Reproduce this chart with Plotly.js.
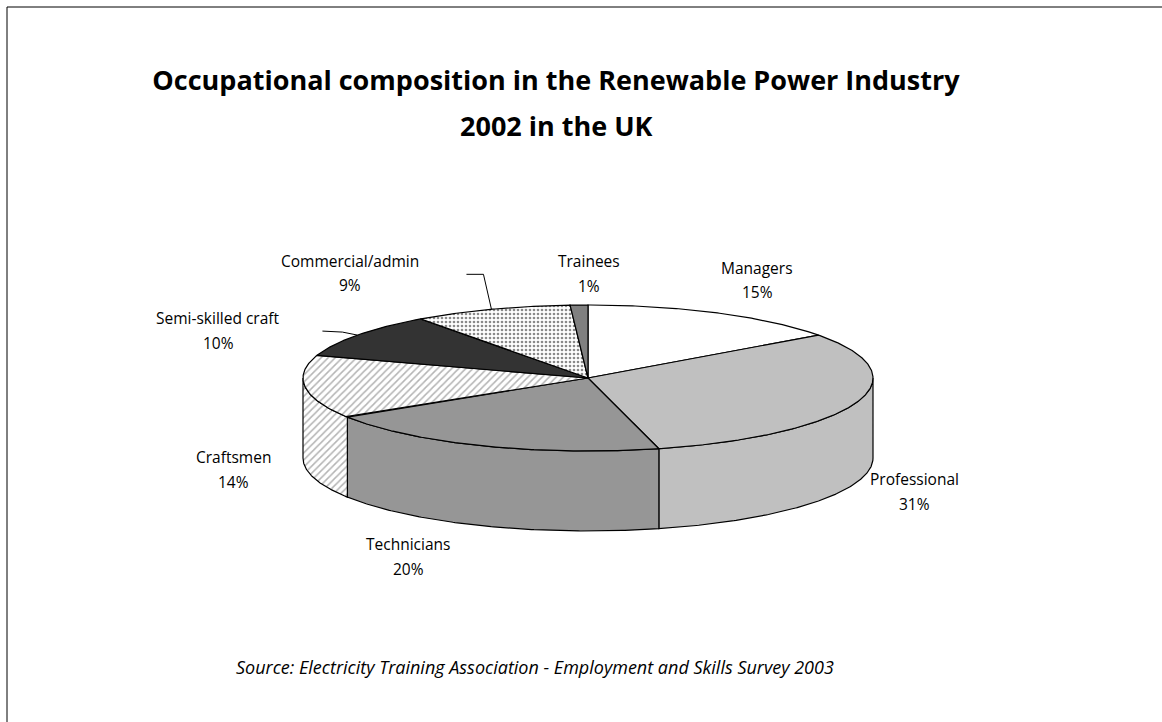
<!DOCTYPE html>
<html>
<head>
<meta charset="utf-8">
<script src="https://cdn.plot.ly/plotly-3.0.1.min.js"></script>
<style>html,body{margin:0;padding:0;background:#fff;}#chart{width:1162px;height:722px;}</style>
</head>
<body>
<div id="chart"></div>
<script>
// ---- data ----
const categories = ['Managers', 'Professional', 'Technicians', 'Craftsmen', 'Semi-skilled craft', 'Commercial/admin', 'Trainees'];
const shares = [15, 31, 20, 14, 10, 9, 1];
const pctLabels = ['15%', '31%', '20%', '14%', '10%', '9%', '1%'];
const titleLine1 = 'Occupational composition in the Renewable Power Industry';
const titleLine2 = '2002 in the UK';
const sourceText = 'Source: Electricity Training Association - Employment and Skills Survey 2003';

// ---- styling ----
const fills = ['#ffffff', '#c0c0c0', '#969696', '#ffffff', '#333333', '#ffffff', '#808080'];
const patterns = [null, null, null,
  {shape: '/', fgcolor: '#b4b4b4', bgcolor: '#ffffff', size: 5, solidity: 0.3},
  null,
  {shape: '.', fgcolor: '#8a8a8a', bgcolor: '#ffffff', size: 4, solidity: 0.35},
  null];
// label anchor (pixel space of the drawing axes): [x, yName, yPct]
const labelPos = [[757, 268, 292], [914, 479, 504], [408, 544, 569], [233, 457, 482], [218, 318, 343], [350, 261, 285], [589, 261, 286]];
// leader elbows relative to slice mid point: [[dx1,dy1],[dx2,dy2]]
const leaders = [null, null, null, null, [[-15, -3], [-35, -4]], [[-8, -35], [-25, -35]], null];

// geometry of the 3-D pie (pixels)
const cx = 588, cy = 378, rx = 285, ry = 73, depth = 80;
function pt(deg, dy) {
  const r = deg * Math.PI / 180;
  return [cx + rx * Math.sin(r), cy - ry * Math.cos(r) + (dy || 0)];
}
function arc(a, b, dy) {
  const out = [];
  const n = Math.max(2, Math.ceil(Math.abs(b - a) / 0.5));
  for (let i = 0; i <= n; i++) out.push(pt(a + (b - a) * i / n, dy));
  return out;
}

const total = shares.reduce((s, v) => s + v, 0);
const bounds = [];
let acc = 0;
shares.forEach(v => { const a = acc / total * 360; acc += v; bounds.push([a, acc / total * 360]); });

const traces = [];
function poly(points, i) {
  const t = {
    type: 'scatter', mode: 'lines', x: points.map(p => p[0]), y: points.map(p => p[1]),
    fill: 'toself', fillcolor: fills[i], line: {color: '#000000', width: 1.2},
    hoverinfo: 'text', text: categories[i] + ' ' + pctLabels[i], showlegend: false
  };
  if (patterns[i]) t.fillpattern = patterns[i];
  return t;
}
// outer walls (front half only)
bounds.forEach(([a, b], i) => {
  const lo = Math.max(a, 90), hi = Math.min(b, 270);
  if (lo < hi) {
    const pts = arc(lo, hi, 0).concat(arc(hi, lo, depth));
    pts.push(pts[0]);
    traces.push(poly(pts, i));
  }
});
// top faces
bounds.forEach(([a, b], i) => {
  const pts = [[cx, cy]].concat(arc(a, b, 0));
  pts.push([cx, cy]);
  traces.push(poly(pts, i));
});
// leader lines
bounds.forEach(([a, b], i) => {
  if (!leaders[i]) return;
  const m = pt((a + b) / 2, 0);
  const p1 = [m[0] + leaders[i][0][0], m[1] + leaders[i][0][1]];
  const p2 = [m[0] + leaders[i][1][0], m[1] + leaders[i][1][1]];
  traces.push({type: 'scatter', mode: 'lines', x: [m[0], p1[0], p2[0]], y: [m[1], p1[1], p2[1]],
    line: {color: '#000000', width: 1}, hoverinfo: 'skip', showlegend: false});
});

const labelFont = {family: 'Open Sans, sans-serif', size: 15.5, color: '#000000'};
const annotations = [];
categories.forEach((c, i) => {
  annotations.push({x: labelPos[i][0], y: labelPos[i][1], xref: 'x', yref: 'y', text: c, showarrow: false, font: labelFont, xanchor: 'center', yanchor: 'middle'});
  annotations.push({x: labelPos[i][0], y: labelPos[i][2], xref: 'x', yref: 'y', text: pctLabels[i], showarrow: false, font: labelFont, xanchor: 'center', yanchor: 'middle'});
});
annotations.push({x: 556, y: 125, xref: 'x', yref: 'y', text: titleLine2, showarrow: false,
  font: {family: 'Open Sans, sans-serif', size: 27, color: '#000000', weight: 'bold'}, xanchor: 'center', yanchor: 'middle'});
annotations.push({x: 535, y: 667, xref: 'x', yref: 'y', text: sourceText, showarrow: false,
  font: {family: 'Open Sans, sans-serif', size: 18, color: '#000000', style: 'italic'}, xanchor: 'center', yanchor: 'middle'});

const layout = {
  width: 1162, height: 722,
  margin: {l: 0, r: 0, t: 0, b: 0},
  paper_bgcolor: '#ffffff', plot_bgcolor: '#ffffff',
  title: {text: titleLine1, x: 556 / 1162, xanchor: 'center', y: 1 - 81 / 722, yanchor: 'middle', yref: 'container', xref: 'container',
    font: {family: 'Open Sans, sans-serif', size: 27, color: '#000000', weight: 'bold'}},
  xaxis: {range: [0, 1162], visible: false, fixedrange: true},
  yaxis: {range: [722, 0], visible: false, fixedrange: true},
  showlegend: false,
  annotations: annotations,
  shapes: [
    {type: 'line', xref: 'paper', yref: 'paper', x0: 7 / 1162, x1: 1, y0: 1 - 7 / 722, y1: 1 - 7 / 722, line: {color: '#000000', width: 1}},
    {type: 'line', xref: 'paper', yref: 'paper', x0: 7 / 1162, x1: 7 / 1162, y0: 0, y1: 1 - 7 / 722, line: {color: '#000000', width: 1}}
  ]
};
Plotly.newPlot('chart', traces, layout, {displayModeBar: false, staticPlot: true});
</script>
</body>
</html>
